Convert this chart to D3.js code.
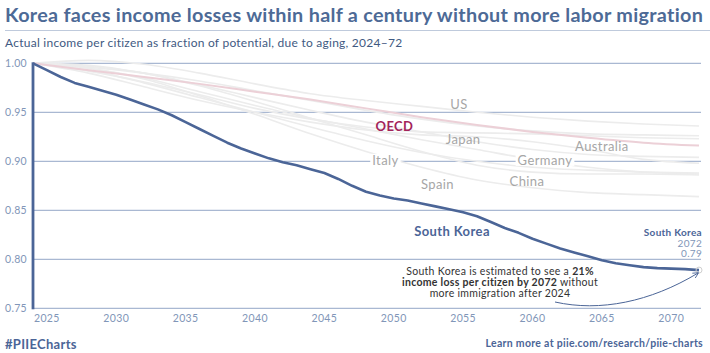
<!DOCTYPE html>
<html>
<head>
<meta charset="utf-8">
<script src="https://cdn.jsdelivr.net/npm/d3@7"></script>
<style>
  body { margin: 0; background: #fff; }
  svg { display: block; font-family: Lato, "Noto Sans", sans-serif; }
</style>
</head>
<body>
<div id="chart"></div>
<script>
var width = 710,
    height = 353;

// data
var years = d3.range(2024, 2073);
var korea = [1.000, 0.993, 0.986, 0.980, 0.976, 0.972, 0.968, 0.963, 0.958, 0.953,
             0.947, 0.940, 0.933, 0.926, 0.919, 0.913, 0.908, 0.903, 0.899, 0.896,
             0.892, 0.888, 0.882, 0.875, 0.869, 0.865, 0.862, 0.860, 0.857, 0.854,
             0.851, 0.848, 0.844, 0.838, 0.832, 0.827, 0.821, 0.816, 0.811, 0.807,
             0.803, 0.799, 0.796, 0.794, 0.792, 0.791, 0.7905, 0.790, 0.789];

var greyYears = [2024, 2028, 2032, 2036, 2040, 2044, 2048, 2052, 2056, 2060, 2064, 2068, 2072];
var oecd      = [1.000, 0.993, 0.986, 0.979, 0.971, 0.963, 0.954, 0.945, 0.937, 0.930, 0.924, 0.919, 0.916];
var us        = [1.000, 1.003, 0.999, 0.990, 0.979, 0.969, 0.962, 0.956, 0.950, 0.945, 0.941, 0.938, 0.936];
var japan     = [1.000, 0.995, 0.985, 0.971, 0.957, 0.944, 0.933, 0.922, 0.912, 0.902, 0.894, 0.889, 0.887];
var australia = [1.000, 0.998, 0.990, 0.978, 0.965, 0.952, 0.940, 0.930, 0.920, 0.912, 0.907, 0.905, 0.904];
var italy     = [1.000, 0.993, 0.980, 0.965, 0.950, 0.935, 0.921, 0.909, 0.900, 0.894, 0.891, 0.889, 0.888];
var germany   = [1.000, 0.990, 0.976, 0.962, 0.950, 0.940, 0.932, 0.927, 0.925, 0.920, 0.912, 0.902, 0.898];
var spain     = [1.000, 0.995, 0.984, 0.967, 0.948, 0.928, 0.910, 0.894, 0.881, 0.873, 0.868, 0.866, 0.864];
var china     = [1.000, 0.997, 0.990, 0.977, 0.961, 0.944, 0.927, 0.910, 0.896, 0.889, 0.887, 0.887, 0.886];
var other1    = [1.000, 0.996, 0.990, 0.982, 0.972, 0.962, 0.952, 0.943, 0.936, 0.931, 0.928, 0.927, 0.926];
var other2    = [1.000, 0.992, 0.981, 0.968, 0.954, 0.943, 0.935, 0.930, 0.929, 0.928, 0.926, 0.924, 0.923];

var yTicks = [0.75, 0.80, 0.85, 0.90, 0.95, 1.00];
var xTicks = [2025, 2030, 2035, 2040, 2045, 2050, 2055, 2060, 2065, 2070];

var greySeries = [
  {name: "US", values: us, lx: 2054.7, ly: 0.958},
  {name: "Japan", values: japan, lx: 2055.0, ly: 0.922},
  {name: "Australia", values: australia, lx: 2065.0, ly: 0.9155},
  {name: "Italy", values: italy, lx: 2049.4, ly: 0.901, gap: true},
  {name: "Germany", values: germany, lx: 2060.9, ly: 0.901, gap: true},
  {name: "Spain", values: spain, lx: 2053.15, ly: 0.8765},
  {name: "China", values: china, lx: 2059.6, ly: 0.879},
  {name: "", values: other1},
  {name: "", values: other2}
];

var blue = "#4b6597",
    axisText = "#8196b8",
    gridColor = "#a9b8d2";

var x = d3.scaleLinear().domain([2024, 2072]).range([33, 699]);
var y = d3.scaleLinear().domain([0.75, 1.00]).range([308.3, 63.3]);

var svg = d3.select("#chart").append("svg")
    .attr("width", width)
    .attr("height", height);

// title block
svg.append("text")
    .attr("x", 5).attr("y", 22)
    .attr("fill", "#4d6a96")
    .attr("font-size", 19.8)
    .attr("letter-spacing", 0.3)
    .attr("font-weight", "bold")
    .text("Korea faces income losses within half a century without more labor migration");

svg.append("line")
    .attr("x1", 5).attr("x2", 710)
    .attr("y1", 30.5).attr("y2", 30.5)
    .attr("stroke", "#bfcadc").attr("stroke-width", 1);

svg.append("text")
    .attr("x", 5).attr("y", 47)
    .attr("fill", "#3f5a82")
    .attr("font-size", 12)
    .attr("letter-spacing", 0.25)
    .text("Actual income per citizen as fraction of potential, due to aging, 2024\u201372");

// grid
svg.append("g")
  .selectAll("line")
  .data(yTicks)
  .enter().append("line")
    .attr("x1", 33).attr("x2", 701)
    .attr("y1", function(d) { return y(d); })
    .attr("y2", function(d) { return y(d); })
    .attr("stroke", gridColor)
    .attr("stroke-width", 1.2);

// y labels
svg.append("g")
  .selectAll("text")
  .data(yTicks)
  .enter().append("text")
    .attr("x", 27)
    .attr("y", function(d) { return y(d); })
    .attr("dy", "0.35em")
    .attr("text-anchor", "end")
    .attr("fill", axisText)
    .attr("font-size", 10.5)
    .attr("letter-spacing", 0.3)
    .text(function(d) { return d3.format(".2f")(d); });

// x labels
svg.append("g")
  .selectAll("text")
  .data(xTicks)
  .enter().append("text")
    .attr("x", function(d) { return x(d); })
    .attr("y", 318.5)
    .attr("dy", "0.35em")
    .attr("text-anchor", "middle")
    .attr("fill", axisText)
    .attr("font-size", 10.5)
    .attr("letter-spacing", 0.4)
    .text(function(d) { return d; });

var greyLine = d3.line()
    .x(function(d, i) { return x(greyYears[i]); })
    .y(function(d) { return y(d); })
    .curve(d3.curveMonotoneX);

svg.append("g")
  .selectAll("path")
  .data(greySeries)
  .enter().append("path")
    .attr("d", function(d) { return greyLine(d.values); })
    .attr("fill", "none")
    .attr("stroke", "#ececec")
    .attr("stroke-width", 1.6);

svg.append("path")
    .attr("d", greyLine(oecd))
    .attr("fill", "none")
    .attr("stroke", "#ecd0d7")
    .attr("stroke-width", 2);

// grey labels
var labelled = greySeries.filter(function(d) { return d.name; });
var lab = svg.append("g")
  .selectAll("g")
  .data(labelled)
  .enter().append("g");

lab.append("text")
    .attr("x", function(d) { return x(d.lx); })
    .attr("y", function(d) { return y(d.ly); })
    .attr("dy", "0.35em")
    .attr("text-anchor", "middle")
    .attr("fill", "#a6a6a6")
    .attr("font-size", 13)
    .attr("letter-spacing", 0.4)
    .text(function(d) { return d.name; })
    .each(function(d) {
      if (!d.gap) return;
      var b = this.getBBox();
      d3.select(this.parentNode).insert("rect", "text")
        .attr("x", b.x - 2).attr("y", b.y + 2)
        .attr("width", b.width + 4).attr("height", b.height - 4)
        .attr("fill", "#fff");
    });

svg.append("text")
    .attr("x", x(2050.05)).attr("y", y(0.936))
    .attr("dy", "0.35em")
    .attr("text-anchor", "middle")
    .attr("fill", "#a3245a")
    .attr("font-size", 13)
    .attr("letter-spacing", 0.4)
    .attr("font-weight", "bold")
    .text("OECD");

// korea
var koreaLine = d3.line()
    .x(function(d, i) { return x(years[i]); })
    .y(function(d) { return y(d); });

svg.append("path")
    .attr("d", koreaLine(korea))
    .attr("fill", "none")
    .attr("stroke", blue)
    .attr("stroke-width", 2.6)
    .attr("stroke-linejoin", "round");

// left axis
svg.append("line")
    .attr("x1", 33).attr("x2", 33)
    .attr("y1", y(1.0) - 1).attr("y2", y(0.75) + 1)
    .attr("stroke", blue).attr("stroke-width", 2.8);

svg.append("text")
    .attr("x", x(2054.2)).attr("y", y(0.828))
    .attr("dy", "0.35em")
    .attr("text-anchor", "middle")
    .attr("fill", blue)
    .attr("font-size", 13)
    .attr("letter-spacing", 0.4)
    .attr("font-weight", "bold")
    .text("South Korea");

// end point annotation
var lastYear = years[years.length - 1],
    lastVal = korea[korea.length - 1];

svg.append("circle")
    .attr("cx", x(lastYear)).attr("cy", y(lastVal))
    .attr("r", 3)
    .attr("fill", "none")
    .attr("stroke", "#cfcfcf")
    .attr("stroke-width", 1);

var endLab = svg.append("g")
    .attr("text-anchor", "end")
    .attr("font-size", 10)
    .attr("letter-spacing", 0.3);
endLab.append("text")
    .attr("x", 702).attr("y", 232).attr("dy", "0.35em")
    .attr("fill", blue).attr("font-weight", "bold")
    .text("South Korea");
endLab.append("text")
    .attr("x", 702).attr("y", 243).attr("dy", "0.35em")
    .attr("fill", axisText)
    .text(lastYear);
endLab.append("text")
    .attr("x", 702).attr("y", 253.5).attr("dy", "0.35em")
    .attr("fill", axisText)
    .text(lastVal.toFixed(2));

// callout
var note = svg.append("text")
    .attr("text-anchor", "middle")
    .attr("fill", "#333")
    .attr("font-size", 10.5)
    .attr("letter-spacing", 0.3);
var l1 = note.append("tspan").attr("x", 500).attr("y", 274.5);
l1.append("tspan").text("South Korea is estimated to see a ");
l1.append("tspan").attr("font-weight", "bold").text("21%");
var l2 = note.append("tspan").attr("x", 500).attr("y", 286);
l2.append("tspan").attr("font-weight", "bold").text("income loss per citizen by 2072");
l2.append("tspan").text(" without");
note.append("tspan").attr("x", 500).attr("y", 297).text("more immigration after 2024");

svg.append("defs").append("marker")
    .attr("id", "arrow")
    .attr("viewBox", "0 0 10 10")
    .attr("refX", 8).attr("refY", 5)
    .attr("markerWidth", 7).attr("markerHeight", 7)
    .attr("orient", "auto")
  .append("path")
    .attr("d", "M1,1 L9,5 L1,9")
    .attr("fill", "none")
    .attr("stroke", blue)
    .attr("stroke-width", 1.2);

var ap = d3.path();
ap.moveTo(555, 302);
ap.bezierCurveTo(600, 312, 650, 302, x(lastYear) - 1, y(lastVal) + 3);
svg.append("path")
    .attr("d", ap.toString())
    .attr("fill", "none")
    .attr("stroke", blue)
    .attr("stroke-width", 1)
    .attr("marker-end", "url(#arrow)");

// footer
svg.append("text")
    .attr("x", 5).attr("y", 344).attr("dy", "0.35em")
    .attr("fill", blue)
    .attr("font-size", 13)
    .attr("letter-spacing", 0.3)
    .attr("font-weight", "bold")
    .text("#PIIECharts");

svg.append("text")
    .attr("x", 703).attr("y", 343).attr("dy", "0.35em")
    .attr("text-anchor", "end")
    .attr("fill", blue)
    .attr("font-size", 10.5)
    .attr("letter-spacing", 0.3)
    .attr("font-weight", "bold")
    .text("Learn more at piie.com/research/piie-charts");
</script>
</body>
</html>
